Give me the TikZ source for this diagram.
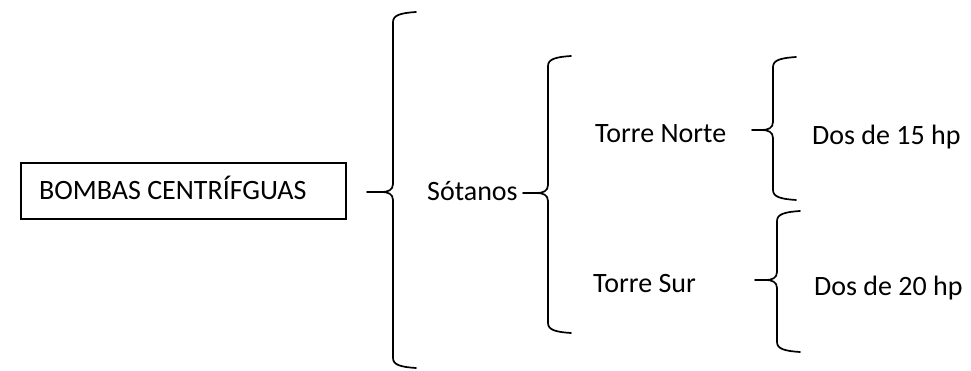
\documentclass[tikz,border=0pt]{standalone}
\usepackage{fontspec}
\setmainfont{Carlito}

% Curly brace opening to the right.
% #1 = x of the stem, #2 = y of the top hook end, #3 = y of the bottom hook end,
% #4 = y of the tip, #5 = length of the tip
\newcommand{\curlybrace}[5]{%
  \draw[bracestroke] (#1+23,#2) .. controls (#1+8,#2+1) and (#1,#2+3) .. (#1,#2+10)
    -- (#1,#4-8) .. controls (#1,#4-2) and (#1-5,#4) .. (#1-11,#4) -- (#1-#5,#4);
  \draw[bracestroke] (#1-11,#4) .. controls (#1-5,#4) and (#1,#4+2) .. (#1,#4+8)
    -- (#1,#3-10) .. controls (#1,#3-3) and (#1+8,#3-1) .. (#1+23,#3);
}

\begin{document}
\begin{tikzpicture}[x=1pt,y=-1pt,
  lbl/.style={inner sep=0pt, anchor=base west, font=\fontsize{28}{34}\selectfont},
  bracestroke/.style={line width=1.7pt, line cap=round, line join=round},
  framebox/.style={draw, line width=1.8pt, inner sep=0pt, anchor=north west}]
\useasboundingbox (0,0) rectangle (971,371);

% title box
\node[framebox, minimum width=325pt, minimum height=56pt] (box) at (20,162) {};
\node[lbl] (bombas) at (39,200) {BOMBAS CENTRÍFGUAS};

% first level
\curlybrace{393}{12}{368}{192}{26}
\node[lbl] (sotanos) at (427,201) {Sótanos};

% second level
\curlybrace{548}{56}{333}{193}{25}
\node[lbl] (norte) at (595,143) {Torre Norte};
\node[lbl] (sur) at (593,292) {Torre Sur};

% third level
\curlybrace{773}{57}{200}{130}{21}
\node[lbl] (hp15) at (812,145) {Dos de 15 hp};
\curlybrace{777}{211}{352}{280}{22}
\node[lbl] (hp20) at (814,295) {Dos de 20 hp};
\end{tikzpicture}
\end{document}
